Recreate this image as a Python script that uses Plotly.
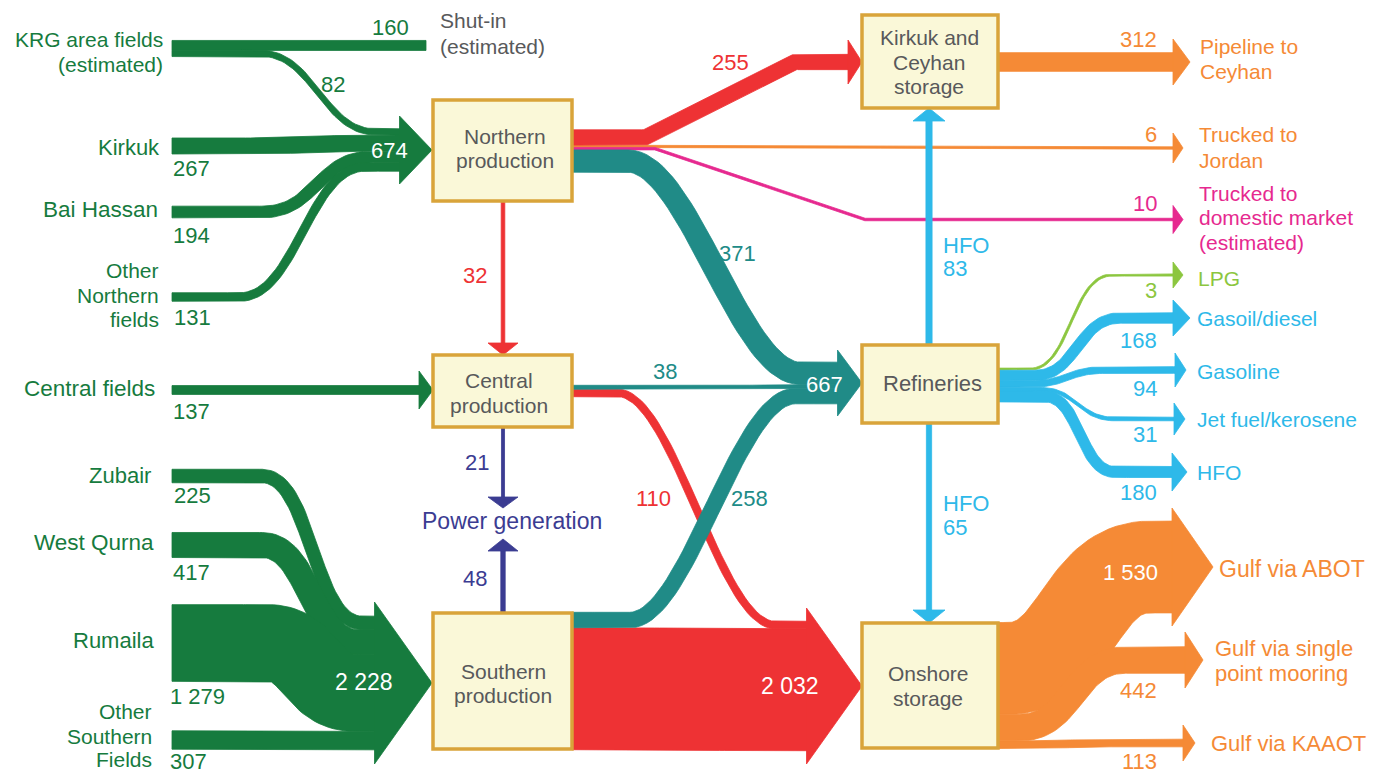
import numpy as np
import plotly.graph_objects as go

# Iraq crude oil flows (thousand barrels per day)
north_fields = ["KRG area fields", "Kirkuk", "Bai Hassan", "Other Northern fields"]
north_field_values = [82, 267, 194, 131]
krg_shut_in = 160
central_fields_value = 137
south_fields = ["Zubair", "West Qurna", "Rumaila", "Other Southern Fields"]
south_field_values = [225, 417, 1279, 307]

north_out = ["Kirkuk and Ceyhan storage", "Trucked to Jordan", "Trucked to domestic market", "Refineries"]
north_out_values = [255, 6, 10, 371]
north_to_central = 32
central_out = ["Refineries", "Onshore storage"]
central_out_values = [38, 110]
south_out = ["Refineries", "Onshore storage"]
south_out_values = [258, 2032]
power_values = [21, 48]      # from central, from southern
hfo_values = [83, 65]        # to Kirkuk/Ceyhan storage, to onshore storage
ceyhan_pipeline = 312
products = ["LPG", "Gasoil/diesel", "Gasoline", "Jet fuel/kerosene", "HFO"]
product_values = [3, 168, 94, 31, 180]
exports = ["Gulf via ABOT", "Gulf via single point mooring", "Gulf via KAAOT"]
export_values = [1530, 442, 113]

GREEN = "#167B3E"
RED = "#EE3234"
TEAL = "#208B87"
ORANGE = "#F58A36"
PINK = "#E6298F"
BLUE = "#2EB9E9"
NAVY = "#3B3C92"
LIME = "#8CC63F"
GREY = "#58595B"
FONT = "Liberation Sans, Arial, sans-serif"

S = 0.06  # px per kb/d


def wd(v):
    return max(v * S, 2 + 0.05 * v)


def fmt(v):
    return f"{v:,}".replace(",", " ")


def stack(values, center):
    w = np.array([wd(v) for v in values])
    c = center - w.sum() / 2 + np.cumsum(w) - w / 2
    return w, c


def path(start, *segs, n=40):
    xs, ys = [float(start[0])], [float(start[1])]
    t = np.linspace(0, 1, n)[1:]
    for seg in segs:
        x0, y0 = xs[-1], ys[-1]
        x1, y1 = seg[1], seg[2]
        if seg[0] == "L":
            px = x0 + (x1 - x0) * t
            py = y0 + (y1 - y0) * t
        else:
            k = seg[3] if len(seg) > 3 else 0.5
            a, b = x0 + k * (x1 - x0), x1 - k * (x1 - x0)
            px = (1-t)**3*x0 + 3*(1-t)**2*t*a + 3*(1-t)*t**2*b + t**3*x1
            py = (1-t)**3*y0 + 3*(1-t)**2*t*y0 + 3*(1-t)*t**2*y1 + t**3*y1
        xs.extend(px)
        ys.extend(py)
    return np.array(xs), np.array(ys)


fig = go.Figure()


def poly(px, py, color):
    fig.add_trace(go.Scatter(x=px, y=py, mode="lines", fill="toself", fillcolor=color,
                             line=dict(width=0.8, color=color), hoverinfo="skip", showlegend=False))


def head(base, tip, half, color):
    bx, by = base
    tx, ty = tip
    d = np.hypot(tx - bx, ty - by)
    nx, ny = -(ty - by) / d, (tx - bx) / d
    poly([bx + nx*half, tx, bx - nx*half, bx + nx*half],
         [by + ny*half, ty, by - ny*half, by + ny*half], color)


def link(p, w, color, tip=None, half=0):
    x, y = p
    gx, gy = np.gradient(x), np.gradient(y)
    L = np.hypot(gx, gy)
    nx, ny = -gy / L, gx / L
    px = np.concatenate([x + nx*w/2, (x - nx*w/2)[::-1], [x[0] + nx[0]*w/2]])
    py = np.concatenate([y + ny*w/2, (y - ny*w/2)[::-1], [y[0] + ny[0]*w/2]])
    poly(px, py, color)
    if tip is not None:
        head((x[-1], y[-1]), tip, half, color)


# ---- northern fields -> northern production ----
wN, cN = stack(north_field_values, 150)
w_shut = wd(krg_shut_in)
krg_top = 48.5 - (w_shut + wN[0]) / 2
y_shut = krg_top + w_shut / 2
y_krg = krg_top + w_shut + wN[0] / 2
link(path((172, y_shut), ("L", 426, y_shut)), w_shut, GREEN)
link(path((172, y_krg), ("L", 262, y_krg), ("C", 375, cN[0], 0.45), ("L", 400, cN[0])), wN[0], GREEN)
link(path((172, 146), ("L", 240, 146), ("C", 385, cN[1]), ("L", 400, cN[1])), wN[1], GREEN)
link(path((172, 212), ("L", 262, 212), ("C", 372, cN[2]), ("L", 400, cN[2])), wN[2], GREEN)
link(path((172, 297), ("L", 240, 297), ("C", 365, cN[3], 0.45), ("L", 400, cN[3])), wN[3], GREEN)
head((399.5, 150), (432, 150), 34, GREEN)

# central fields
link(path((172, 390), ("L", 419, 390)), wd(central_fields_value), GREEN, (433, 390), 19)

# ---- southern fields -> southern production ----
wS, cS = stack(south_field_values, 683)
link(path((172, 476), ("L", 262, 476), ("C", 362, cS[0]), ("L", 375, cS[0])), wS[0], GREEN)
link(path((172, 545), ("L", 262, 545), ("C", 358, cS[1]), ("L", 375, cS[1])), wS[1], GREEN)
link(path((172, 643), ("L", 268, 643), ("C", 355, cS[2]), ("L", 375, cS[2])), wS[2], GREEN)
link(path((172, 740), ("L", 375, cS[3])), wS[3], GREEN)
head((374.5, 683), (432, 683), 81, GREEN)

# ---- production outflows ----
wNo, cNo = stack(north_out_values, 151)
refinery_in = [north_out_values[3], central_out_values[0], south_out_values[0]]
wR, cR = stack(refinery_in, 383)
onshore_in = [central_out_values[1], south_out_values[1]]
wO, cO = stack(onshore_in, 686)
wC, cC = stack(central_out_values, 391)
wSo, cSo = stack(south_out_values, 681)

link(path((572, cNo[1]), ("L", 655, cNo[1]), ("L", 1173, 148)), wNo[1], ORANGE, (1183, 148), 15)
link(path((572, cNo[2]), ("L", 655, cNo[2]), ("L", 865, 219.5), ("L", 1173, 219.5)), wNo[2], PINK, (1183, 219.5), 14)
link(path((572, cNo[0]), ("L", 645, cNo[0]), ("L", 795, 62), ("L", 848, 62)), wNo[0], RED, (862, 62), 22)

# red 110 sits behind teal 258
link(path((572, cC[1]), ("L", 618, cC[1]), ("C", 775, cO[0], 0.35), ("L", 807, cO[0])), wC[1], RED)
link(path((572, cSo[1]), ("C", 807, cO[1])), wSo[1], RED)
head((806.5, 686), (862, 686), 78, RED)

link(path((572, cNo[3]), ("L", 628, cNo[3]), ("C", 800, cR[0], 0.35), ("L", 838, cR[0])), wNo[3], TEAL)
link(path((572, cC[0]), ("L", 720, cC[0]), ("C", 838, cR[1])), wC[0], TEAL)
link(path((572, cSo[0]), ("L", 630, cSo[0]), ("C", 795, cR[2], 0.35), ("L", 838, cR[2])), wSo[0], TEAL)
head((837.5, 383), (862, 383), 33, TEAL)

# vertical flows
link(path((503, 201), ("L", 503, 343)), wd(north_to_central), RED, (503, 355), 15)
link(path((503, 427), ("L", 503, 497)), wd(power_values[0]), NAVY, (503, 508), 15)
link(path((503, 613), ("L", 503, 551)), wd(power_values[1]), NAVY, (503, 539), 15)
link(path((929, 345), ("L", 929, 121)), wd(hfo_values[0]), BLUE, (929, 108), 16)
link(path((929, 423), ("L", 929, 610)), wd(hfo_values[1]), BLUE, (929, 623), 16)

# Kirkuk and Ceyhan storage -> pipeline
link(path((998, 62), ("L", 1173, 62)), wd(ceyhan_pipeline), ORANGE, (1190, 62), 23)

# refinery products
wP, cP = stack(product_values, 385)
prod_y = [275, 318, 370, 419, 472]
prod_bend = [(1030, 1112), (1035, 1120), (1030, 1105), (1040, 1115), (1045, 1115)]
prod_base = [1173, 1173, 1175, 1174, 1172]
prod_tip = [1183, 1190, 1186, 1185, 1187]
prod_half = [13, 18, 17, 16, 19]
for i in range(len(product_values)):
    col = LIME if i == 0 else BLUE
    b0, b1 = prod_bend[i]
    link(path((998, cP[i]), ("L", b0, cP[i]), ("C", b1, prod_y[i]), ("L", prod_base[i], prod_y[i])),
         wP[i], col, (prod_tip[i], prod_y[i]), prod_half[i])

# onshore storage exports
wE, cE = stack(export_values, 685.5)
exp_y = [567, 660, 743]
exp_bend = [(1008, 1150), (1020, 1125), (1030, 1110)]
exp_base = [1172, 1185, 1183]
exp_tip = [1213, 1203, 1195]
exp_half = [59, 28, 18]
for i in range(len(export_values)):
    b0, b1 = exp_bend[i]
    link(path((998, cE[i]), ("L", b0, cE[i]), ("C", b1, exp_y[i]), ("L", exp_base[i], exp_y[i])),
         wE[i], ORANGE, (exp_tip[i], exp_y[i]), exp_half[i])

# ---- node boxes ----
boxes = {
    "north": (433, 100, 572, 201),
    "central": (433, 355, 572, 427),
    "south": (433, 613, 572, 749),
    "ceyhan": (862, 15, 998, 108),
    "refineries": (862, 345, 998, 423),
    "onshore": (862, 623, 998, 748),
}
for x0, y0, x1, y1 in boxes.values():
    fig.add_shape(type="rect", x0=x0, y0=y0, x1=x1, y1=y1, xref="x", yref="y",
                  fillcolor="#FAF8D8", line=dict(color="#D9A43A", width=3.5), layer="above")


def txt(x, y, s, color, size=21, anchor="center"):
    fig.add_annotation(x=x, y=y, text=s, showarrow=False, xanchor=anchor, yanchor="middle",
                       font=dict(family=FONT, size=size, color=color))


# node labels
txt(505, 136, "Northern", GREY, 21)
txt(505, 160, "production", GREY, 21)
txt(499, 380, "Central", GREY, 21)
txt(499, 405, "production", GREY, 21)
txt(503, 671, "Southern", GREY, 21)
txt(503, 695, "production", GREY, 21)
txt(929, 37, "Kirkuk and", GREY, 21)
txt(929, 62, "Ceyhan", GREY, 21)
txt(929, 86, "storage", GREY, 21)
txt(932, 383, "Refineries", GREY, 22)
txt(928, 673, "Onshore", GREY, 21)
txt(928, 698, "storage", GREY, 21)
txt(512, 521, "Power generation", NAVY, 23)

# source labels
txt(165, 39, "KRG area fields", GREEN, 21, "right")
txt(165, 64, "(estimated)", GREEN, 21, "right")
txt(162, 147, north_fields[1], GREEN, 22, "right")
txt(160, 209, north_fields[2], GREEN, 22.5, "right")
for yy, s in zip([270, 295, 319], ["Other", "Northern", "fields"]):
    txt(161, yy, s, GREEN, 21, "right")
txt(157, 388, "Central fields", GREEN, 22.5, "right")
txt(153, 475, south_fields[0], GREEN, 22, "right")
txt(156, 542, south_fields[1], GREEN, 22.5, "right")
txt(156, 640, south_fields[2], GREEN, 22, "right")
for yy, s in zip([711, 736, 759], ["Other", "Southern", "Fields"]):
    txt(154, yy, s, GREEN, 21, "right")

txt(171, 168, fmt(north_field_values[1]), GREEN, 22, "left")
txt(171, 235, fmt(north_field_values[2]), GREEN, 22, "left")
txt(172, 317, fmt(north_field_values[3]), GREEN, 22, "left")
txt(171, 411, fmt(central_fields_value), GREEN, 22, "left")
txt(172, 495, fmt(south_field_values[0]), GREEN, 22, "left")
txt(171, 572, fmt(south_field_values[1]), GREEN, 22, "left")
txt(168, 696, fmt(south_field_values[2]), GREEN, 22, "left")
txt(168, 761, fmt(south_field_values[3]), GREEN, 22, "left")
txt(390, 27, fmt(krg_shut_in), GREEN, 22)
txt(333, 84, fmt(north_field_values[0]), GREEN, 22)
txt(389, 150, fmt(sum(north_field_values)), "white", 22)
txt(364, 682, fmt(sum(south_field_values)), "white", 23)
txt(438, 20, "Shut-in", GREY, 21, "left")
txt(438, 46, "(estimated)", GREY, 21, "left")

# middle values
txt(730, 62, fmt(north_out_values[0]), RED, 22)
txt(737, 253, fmt(north_out_values[3]), TEAL, 22)
txt(475, 275, fmt(north_to_central), RED, 22)
txt(665, 371, fmt(central_out_values[0]), TEAL, 22)
txt(824, 384, fmt(sum(refinery_in)), "white", 22)
txt(477, 462, fmt(power_values[0]), NAVY, 22)
txt(475, 578, fmt(power_values[1]), NAVY, 22)
txt(653, 498, fmt(central_out_values[1]), RED, 22)
txt(749, 498, fmt(south_out_values[0]), TEAL, 22)
txt(790, 686, fmt(south_out_values[1]), "white", 23)
txt(941, 245, "HFO", BLUE, 22, "left")
txt(941, 268, fmt(hfo_values[0]), BLUE, 22, "left")
txt(941, 503, "HFO", BLUE, 22, "left")
txt(941, 527, fmt(hfo_values[1]), BLUE, 22, "left")

# right side values and labels
txt(1159, 39, fmt(ceyhan_pipeline), ORANGE, 22, "right")
txt(1159, 134, fmt(north_out_values[1]), ORANGE, 22, "right")
txt(1159, 203, fmt(north_out_values[2]), PINK, 22, "right")
txt(1159, 290, fmt(product_values[0]), LIME, 22, "right")
for yy, v in zip([340, 388, 434, 492], product_values[1:]):
    txt(1159, yy, fmt(v), BLUE, 22, "right")
txt(1130, 572, fmt(export_values[0]), "white", 22)
txt(1159, 690, fmt(export_values[1]), ORANGE, 22, "right")
txt(1159, 761, fmt(export_values[2]), ORANGE, 22, "right")

txt(1198, 46, "Pipeline to", ORANGE, 21, "left")
txt(1198, 71, "Ceyhan", ORANGE, 21, "left")
txt(1197, 134, "Trucked to", ORANGE, 21, "left")
txt(1197, 160, "Jordan", ORANGE, 21, "left")
txt(1197, 193, "Trucked to", PINK, 21, "left")
txt(1197, 217, "domestic market", PINK, 21, "left")
txt(1197, 242, "(estimated)", PINK, 21, "left")
txt(1196, 278, products[0], LIME, 21, "left")
for yy, s in zip([318, 371, 419, 472], products[1:]):
    txt(1195, yy, s, BLUE, 21, "left")
txt(1217, 569, exports[0], ORANGE, 23, "left")
txt(1213, 648, "Gulf via single", ORANGE, 22, "left")
txt(1213, 673, "point mooring", ORANGE, 22, "left")
txt(1209, 743, exports[2], ORANGE, 22, "left")

fig.update_layout(
    width=1391, height=773,
    margin=dict(l=0, r=0, t=0, b=0),
    plot_bgcolor="white", paper_bgcolor="white",
    xaxis=dict(range=[0, 1391], visible=False, fixedrange=True),
    yaxis=dict(range=[773, 0], visible=False, fixedrange=True),
    showlegend=False,
)

fig.write_html("out.html", config={"displayModeBar": False},
               post_script="document.body.style.margin='0';document.body.style.overflow='hidden';")
